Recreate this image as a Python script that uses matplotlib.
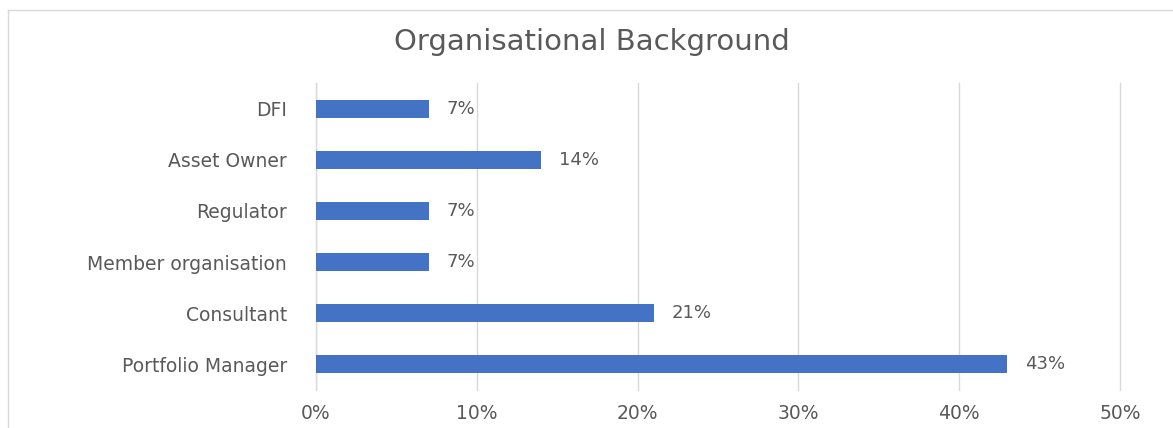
import matplotlib.pyplot as plt
from matplotlib.lines import Line2D

categories = ["Portfolio Manager", "Consultant", "Member organisation",
              "Regulator", "Asset Owner", "DFI"]
shares = [43, 21, 7, 7, 14, 7]
xticks = [0, 10, 20, 30, 40, 50]

BAR = "#4472C4"
TEXT = "#595959"
GRID = "#D9D9D9"

plt.rcParams["font.family"] = ["DejaVu Sans"]

fig = plt.figure(figsize=(11.73, 4.28), dpi=100)
ax = fig.add_axes([0.2694, 0.0888, 0.6854, 0.7173])

y = range(len(categories))
ax.barh(y, shares, height=0.35, color=BAR, zorder=3)
for yi, v in zip(y, shares):
    ax.text(v + 1.1, yi, f"{v}%", va="center", ha="left",
            fontsize=13, color=TEXT)

ax.set_xlim(0, 50)
ax.set_ylim(-0.5, len(categories) - 0.5)
ax.set_xticks(xticks)
ax.set_xticklabels([f"{t}%" for t in xticks])
ax.set_yticks(list(y))
ax.set_yticklabels(categories)
ax.tick_params(axis="both", length=0, labelsize=13.5, labelcolor=TEXT)
ax.tick_params(axis="x", pad=10)
ax.tick_params(axis="y", pad=21)
ax.grid(axis="x", color=GRID, linewidth=1, zorder=0)
for gl in ax.get_xgridlines():
    gl.set_clip_on(False)
for s in ax.spines.values():
    s.set_visible(False)
ax.axvline(0, color=GRID, linewidth=1, zorder=1)

fig.text(0.505, 0.902, "Organisational Background", ha="center", va="center",
         fontsize=21, color=TEXT)

# chart frame: only the top and left edges fall inside the image
fig.add_artist(Line2D([8 / 1173, 1], [1 - 10 / 428, 1 - 10 / 428],
                      transform=fig.transFigure, color=GRID, linewidth=1))
fig.add_artist(Line2D([8 / 1173, 8 / 1173], [0, 1 - 10 / 428],
                      transform=fig.transFigure, color=GRID, linewidth=1))

fig.savefig("out.png", dpi=100, facecolor="white")
